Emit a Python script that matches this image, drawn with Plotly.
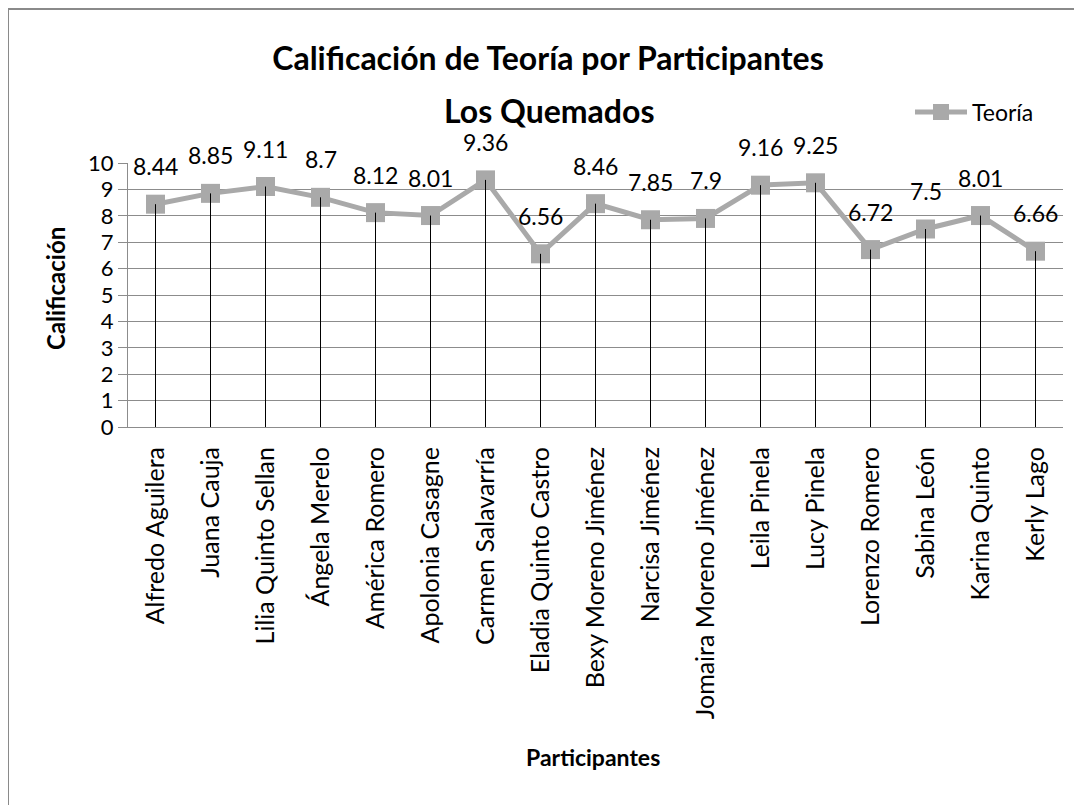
import plotly.graph_objects as go

participantes = [
    "Alfredo Aguilera", "Juana Cauja", "Lilia Quinto Sellan", "Ángela Merelo",
    "América Romero", "Apolonia Casagne", "Carmen Salavarría", "Eladia Quinto Castro",
    "Bexy Moreno Jiménez", "Narcisa Jiménez", "Jomaira Moreno Jiménez", "Leila Pinela",
    "Lucy Pinela", "Lorenzo Romero", "Sabina León", "Karina Quinto", "Kerly Lago",
]
teoria = [8.44, 8.85, 9.11, 8.7, 8.12, 8.01, 9.36, 6.56, 8.46, 7.85, 7.9, 9.16,
          9.25, 6.72, 7.5, 8.01, 6.66]
y_ticks = list(range(0, 11))

FONT = "Lato, sans-serif"
GRAY = "#A9A9A9"
GRID = "#8C8C8C"

# plot area in page pixels (the page adds an 8px body margin)
PL, PR, PT, PB = 128, 1063, 163, 427
PW, PH = PR - PL, PB - PT


def px_x(x):
    return (x - PL) / PW


def px_y(y):
    return (PB - y) / PH


fig = go.Figure()

# main series
fig.add_trace(go.Scatter(
    x=participantes, y=teoria,
    mode="lines+markers",
    name="Teoría",
    line=dict(color=GRAY, width=5),
    marker=dict(symbol="square", size=19, color=GRAY),
))

# drop lines from each point to the axis
drop_x, drop_y = [], []
for name, val in zip(participantes, teoria):
    drop_x += [name, name, None]
    drop_y += [val, 0, None]
fig.add_trace(go.Scatter(
    x=drop_x, y=drop_y, mode="lines",
    line=dict(color="black", width=1),
    showlegend=False, hoverinfo="skip",
))

# data labels
for name, val in zip(participantes, teoria):
    fig.add_annotation(
        x=name, y=val, text=f"{val:g}", showarrow=False,
        xanchor="center", yanchor="middle",
        yshift=38, font=dict(family=FONT, size=23, color="black"),
    )

# second title line and axis titles
fig.add_annotation(
    xref="paper", yref="paper", x=px_x(549), y=px_y(111), text="<b>Los Quemados</b>",
    showarrow=False, xanchor="center", yanchor="middle",
    font=dict(family=FONT, size=32, color="black"),
)
fig.add_annotation(
    xref="paper", yref="paper", x=px_x(55), y=px_y(289),
    text="<b>Calificación</b>", textangle=-90, showarrow=False,
    xanchor="center", yanchor="middle",
    font=dict(family=FONT, size=24, color="black"),
)
fig.add_annotation(
    xref="paper", yref="paper", x=px_x(593), y=px_y(757),
    text="<b>Participantes</b>", showarrow=False,
    xanchor="center", yanchor="middle",
    font=dict(family=FONT, size=23, color="black"),
)

# chart border
fig.add_shape(
    type="rect", xref="paper", yref="paper",
    x0=px_x(8), x1=px_x(1095), y0=px_y(815), y1=px_y(9),
    line=dict(color="#8A8A8A", width=2),
)

W, H = 1074, 797
fig.update_layout(
    width=W, height=H,
    margin=dict(l=PL - 8, r=W - (PR - 8), t=PT - 8, b=H - (PB - 8)),
    paper_bgcolor="white", plot_bgcolor="white",
    font=dict(family=FONT, color="black"),
    title=dict(
        text="<b>Calificación de Teoría por Participantes</b>",
        x=(548 - 8) / W, xanchor="center", y=1 - (59 - 8) / H, yanchor="middle",
        font=dict(family=FONT, size=32, color="black"),
    ),
    legend=dict(
        x=px_x(910), y=px_y(112), xanchor="left", yanchor="middle",
        font=dict(family=FONT, size=23, color="black"),
        bgcolor="rgba(0,0,0,0)", itemwidth=52,
    ),
    showlegend=True,
)

fig.update_xaxes(
    type="category",
    range=[-0.5, len(participantes) - 0.5],
    tickangle=-90,
    tickfont=dict(family=FONT, size=25, color="black"),
    showline=True, linecolor=GRID, linewidth=1,
    showgrid=False, ticks="", ticklabelstandoff=9,
)
fig.update_yaxes(
    range=[0, 10], tickvals=y_ticks,
    tickfont=dict(family=FONT, size=22, color="black"),
    showline=True, linecolor=GRID, linewidth=1,
    showgrid=True, gridcolor=GRID, gridwidth=1,
    ticks="outside", ticklen=9, tickcolor=GRID,
    zeroline=False,
)

fig.write_html("out.html")
